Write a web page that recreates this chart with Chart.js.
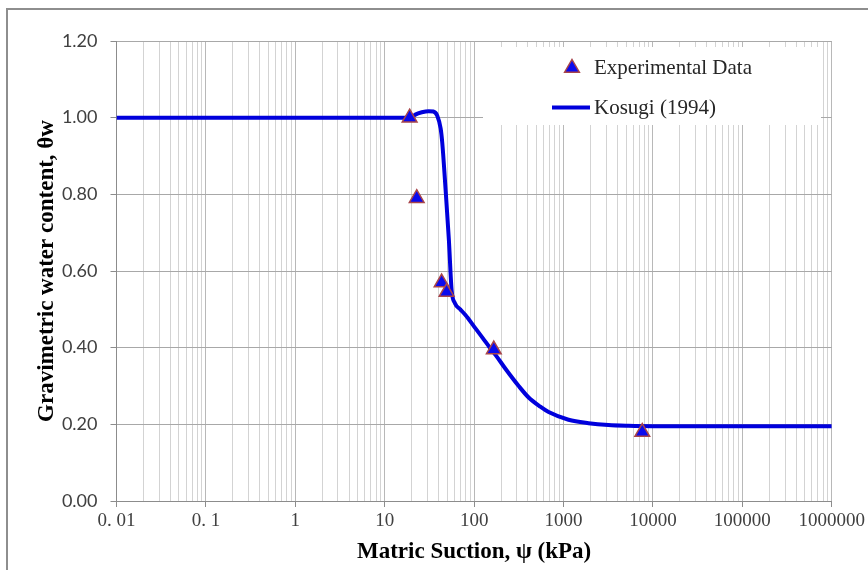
<!DOCTYPE html>
<html>
<head>
<meta charset="utf-8">
<script src="https://cdn.jsdelivr.net/npm/chart.js@4/dist/chart.umd.min.js"></script>
<style>
html,body{margin:0;padding:0;background:#fff;}
#wrap{width:868px;height:570px;position:relative;}
canvas{display:block;}
</style>
</head>
<body>
<div id="wrap"><canvas id="c" width="868" height="570"></canvas></div>
<script>
// ---- data ----
const seriesNames = ['Experimental Data', 'Kosugi (1994)'];
const expSuction = [19, 22.8, 43.3, 49.2, 166, 7600];
const expTheta   = [1.00, 0.79, 0.57, 0.545, 0.395, 0.18];
const kosugiSuction = [0.01, 1, 10, 17, 19.6, 22, 26, 31, 35, 38.7, 42.2, 44, 48, 52.2, 56, 61, 70, 80, 100, 125, 150, 175, 224, 315, 407, 550, 681, 1137, 1901, 3177, 5309, 10000, 100000, 1000000];
const kosugiTheta   = [1.0, 1.0, 1.0, 1.0, 1.0, 1.008, 1.014, 1.017, 1.016, 1.005, 0.972, 0.935, 0.811, 0.681, 0.55, 0.516, 0.50, 0.485, 0.455, 0.425, 0.40, 0.38, 0.345, 0.30, 0.27, 0.246, 0.232, 0.212, 0.203, 0.198, 0.196, 0.195, 0.195, 0.195];
const xTickValues = [0.01, 0.1, 1, 10, 100, 1000, 10000, 100000, 1000000];
const xTickLabels = ['0. 01', '0. 1', '1', '10', '100', '1000', '10000', '100000', '1000000'];
const yTickValues = [0, 0.2, 0.4, 0.6, 0.8, 1.0, 1.2];
const yTickLabels = ['0.00', '0.20', '0.40', '0.60', '0.80', '1.00', '1.20'];
const xTitle = 'Matric Suction, \u03C8 (kPa)';
const yTitle = 'Gravimetric water content, \u03B8w';

// ---- helpers ----
function isDecade(v) {
  const l = Math.log10(v);
  return Math.abs(l - Math.round(l)) < 1e-9;
}
function decadeLabel(v) {
  for (let i = 0; i < xTickValues.length; i++) {
    if (Math.abs(Math.log10(v) - Math.log10(xTickValues[i])) < 1e-9) return xTickLabels[i];
  }
  return '';
}
function buildLogTicks() {
  const out = [];
  const e0 = Math.round(Math.log10(xTickValues[0]));
  const e1 = Math.round(Math.log10(xTickValues[xTickValues.length - 1]));
  for (let e = e0; e <= e1; e++) {
    for (let k = 1; k <= 9; k++) {
      if (e === e1 && k > 1) break;
      out.push({ value: Number((k * Math.pow(10, e)).toPrecision(6)) });
    }
  }
  return out;
}

const TRI_FILL = '#0a0aee';
const TRI_STROKE = '#a8454a';
const LINE_COLOR = '#0000dc';
const TRI_R = 8.5;

const framePlugin = {
  id: 'frameAndLegend',
  beforeDraw(chart) {
    const ctx = chart.ctx;
    ctx.save();
    ctx.fillStyle = '#ffffff';
    ctx.fillRect(0, 0, chart.width, chart.height);
    ctx.strokeStyle = '#8e8e8e';
    ctx.lineWidth = 2;
    ctx.beginPath();
    ctx.moveTo(7, 570);
    ctx.lineTo(7, 9);
    ctx.lineTo(868, 9);
    ctx.stroke();
    ctx.restore();
  },
  beforeDatasetsDraw(chart) {
    const ctx = chart.ctx;
    ctx.save();
    ctx.fillStyle = '#ffffff';
    ctx.fillRect(483, 47, 338, 78);
    ctx.restore();
  },
  afterDatasetsDraw(chart) {
    const ctx = chart.ctx;
    ctx.save();
    const cx = 572, cy = 68, r = TRI_R;
    ctx.beginPath();
    ctx.moveTo(cx, cy - r);
    ctx.lineTo(cx + 0.866 * r, cy + r / 2);
    ctx.lineTo(cx - 0.866 * r, cy + r / 2);
    ctx.closePath();
    ctx.fillStyle = TRI_FILL;
    ctx.fill();
    ctx.lineWidth = 1.5;
    ctx.strokeStyle = TRI_STROKE;
    ctx.stroke();
    ctx.beginPath();
    ctx.moveTo(552, 107.5);
    ctx.lineTo(590, 107.5);
    ctx.lineWidth = 4;
    ctx.strokeStyle = LINE_COLOR;
    ctx.stroke();
    ctx.fillStyle = '#262626';
    ctx.font = '21px "Liberation Serif", "Times New Roman", serif';
    ctx.textBaseline = 'alphabetic';
    ctx.textAlign = 'left';
    ctx.fillText(chart.data.datasets[0].label, 594, 73.5);
    ctx.fillText(chart.data.datasets[1].label, 594, 114);
    ctx.restore();
  }
};

const chart = new Chart(document.getElementById('c'), {
  type: 'scatter',
  data: {
    datasets: [
      {
        label: seriesNames[0],
        data: expSuction.map((x, i) => ({ x: x, y: expTheta[i] })),
        pointStyle: 'triangle',
        pointRadius: TRI_R,
        pointHoverRadius: TRI_R,
        backgroundColor: TRI_FILL,
        borderColor: TRI_STROKE,
        borderWidth: 1.5,
        showLine: false,
        order: 0
      },
      {
        label: seriesNames[1],
        data: kosugiSuction.map((x, i) => ({ x: x, y: kosugiTheta[i] })),
        showLine: true,
        borderColor: LINE_COLOR,
        backgroundColor: LINE_COLOR,
        borderWidth: 4,
        pointRadius: 0,
        pointHoverRadius: 0,
        cubicInterpolationMode: 'monotone',
        fill: false,
        order: 1
      }
    ]
  },
  options: {
    responsive: false,
    animation: false,
    devicePixelRatio: 1,
    layout: { padding: { left: 0, top: 41, right: 34, bottom: 0 } },
    plugins: {
      legend: { display: false },
      tooltip: { enabled: false },
      title: { display: false }
    },
    scales: {
      x: {
        type: 'logarithmic',
        position: 'bottom',
        min: xTickValues[0],
        max: xTickValues[xTickValues.length - 1],
        afterBuildTicks(scale) { scale.ticks = buildLogTicks(); },
        afterFit(scale) { scale.height = 69; },
        border: { display: true, color: '#8c8c8c', width: 1 },
        grid: {
          color: (c) => (c.tick && isDecade(c.tick.value)) ? '#b8b8b8' : '#d3d3d3',
          tickColor: (c) => (c.tick && isDecade(c.tick.value)) ? '#8c8c8c' : 'rgba(0,0,0,0)',
          tickLength: 6,
          lineWidth: 1,
          drawTicks: true
        },
        ticks: {
          autoSkip: false,
          maxRotation: 0,
          minRotation: 0,
          padding: 3,
          color: '#404040',
          font: { family: '"Liberation Serif", "Times New Roman", serif', size: 19 },
          callback: (v) => isDecade(v) ? decadeLabel(v) : ''
        },
        title: {
          display: true,
          text: xTitle,
          color: '#000000',
          font: { family: '"Liberation Serif", "Times New Roman", serif', size: 23, weight: 'bold' },
          padding: { top: 0, bottom: 4 }
        }
      },
      y: {
        type: 'linear',
        position: 'left',
        min: yTickValues[0],
        max: yTickValues[yTickValues.length - 1],
        afterBuildTicks(scale) { scale.ticks = yTickValues.map(v => ({ value: v })); },
        afterFit(scale) { scale.width = 116.5; },
        border: { display: true, color: '#8c8c8c', width: 1 },
        grid: {
          color: '#a8a8a8',
          tickColor: '#8c8c8c',
          tickLength: 6,
          lineWidth: 1
        },
        ticks: {
          padding: 13,
          color: '#404040',
          font: { family: 'Lato, "Liberation Sans", sans-serif', size: 18 },
          callback: (v, i) => yTickLabels[i]
        },
        title: {
          display: true,
          text: yTitle,
          color: '#000000',
          font: { family: '"Liberation Serif", "Times New Roman", serif', size: 23, weight: 'bold' },
          padding: { top: 33, bottom: 0 }
        }
      }
    }
  },
  plugins: [framePlugin]
});
</script>
</body>
</html>
